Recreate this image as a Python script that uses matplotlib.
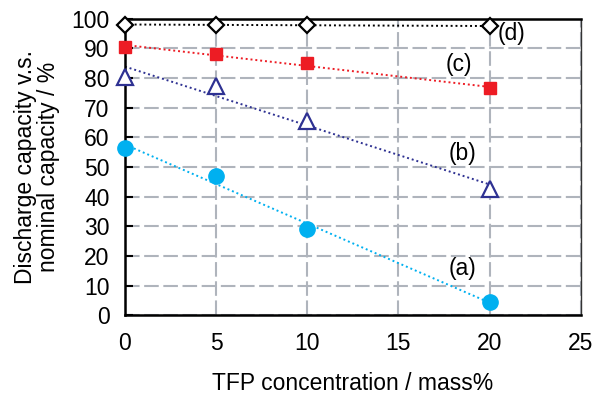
import numpy as np
import matplotlib.pyplot as plt

plt.rcParams['font.family'] = ['Liberation Sans', 'DejaVu Sans']

# TFP concentration (mass%)
conc = [0, 5, 10, 20]
# discharge capacity vs nominal capacity (%)
cap_a = [56.5, 47, 29, 4.5]
cap_b = [80.5, 77.5, 65.5, 42.5]
cap_c = [90.5, 88, 85, 76.5]
cap_d = [98, 98, 98, 97.5]
labels = ['(a)', '(b)', '(c)', '(d)']

fig = plt.figure(figsize=(5.95, 3.93), dpi=100)
ax = fig.add_axes([0.21, 0.198, 0.766, 0.754])

series = [
    (cap_a, dict(marker='o', color='#00B0F0', mfc='#00B0F0', ms=11)),
    (cap_b, dict(marker='^', color='#2E3192', mfc='white', ms=12, mew=1.6)),
    (cap_c, dict(marker='s', color='#ED1C24', mfc='#ED1C24', ms=9)),
    (cap_d, dict(marker='D', color='black', mfc='white', ms=8.5, mew=1.6)),
]
xfit = np.array([0, 20])
for y, st in series:
    # linear trend line through the points
    k, b = np.polyfit(conc, y, 1)
    ax.plot(xfit, k * xfit + b, ls=(0, (1, 1.5)), lw=1.4, color=st['color'], zorder=2)
    ax.plot(conc, y, ls='none', zorder=3, clip_on=False, **st)

# curve labels
fs = 16.5
ax.text(20.45, 95.0, labels[3], fontsize=fs, va='center', ha='left')
ax.text(18.3, 84.5, labels[2], fontsize=fs, va='center', ha='center')
ax.text(18.5, 54.7, labels[1], fontsize=fs, va='center', ha='center')
ax.text(18.5, 15.9, labels[0], fontsize=fs, va='center', ha='center')

ax.set_xlim(0, 25)
ax.set_ylim(0, 100)
ax.set_xticks(range(0, 26, 5))
ax.set_yticks(range(0, 101, 10))
ax.grid(True, color='#AFB4BC', ls=(0, (7, 2.2)), lw=1.5)
ax.set_axisbelow(True)
ax.tick_params(axis='y', direction='in', length=6, width=1.5, pad=11, labelsize=fs)
ax.tick_params(axis='x', direction='in', length=0, pad=12, labelsize=fs)

for s in ['left', 'bottom', 'top']:
    ax.spines[s].set_linewidth(1.8)
    ax.spines[s].set_color('black')
ax.spines['right'].set_linewidth(1.0)
ax.spines['right'].set_color('#333333')

ax.set_xlabel('TFP concentration / mass%', fontsize=fs, labelpad=12)
ax.set_ylabel('Discharge capacity v.s.\nnominal capacity / %', fontsize=fs, labelpad=8, linespacing=1.0)

fig.savefig('out.png', dpi=100)
